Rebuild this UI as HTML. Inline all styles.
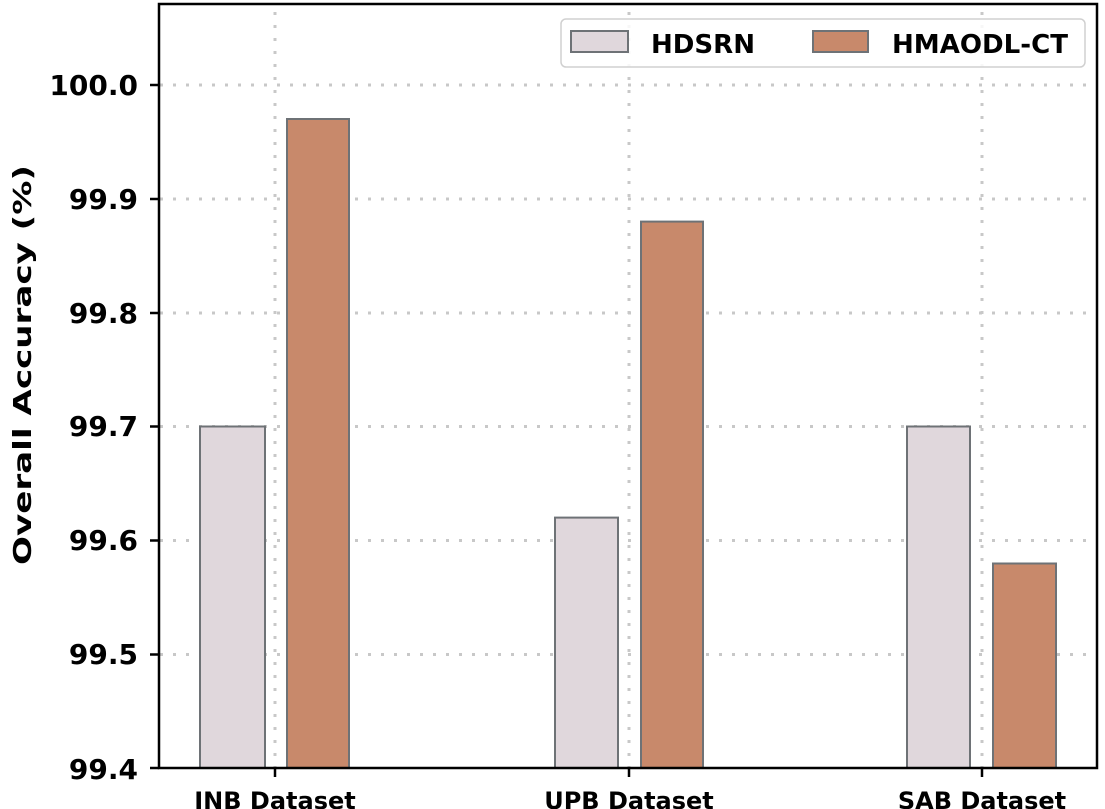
<!DOCTYPE html>
<html><head><meta charset="utf-8"><style>
html,body{margin:0;padding:0;background:#fff;}
svg{display:block;}
text{font-family:"DejaVu Sans","Liberation Sans",sans-serif;font-weight:bold;fill:#000;}
</style></head><body>
<svg width="1105" height="809" viewBox="0 0 1105 809" xmlns="http://www.w3.org/2000/svg">
<g stroke="#c8c8c8" stroke-width="3" stroke-dasharray="3,10">
<line x1="160" y1="85" x2="1097" y2="85"/>
<line x1="160" y1="199" x2="1097" y2="199"/>
<line x1="160" y1="313" x2="1097" y2="313"/>
<line x1="160" y1="426.5" x2="1097" y2="426.5"/>
<line x1="160" y1="540.5" x2="1097" y2="540.5"/>
<line x1="160" y1="654.5" x2="1097" y2="654.5"/>
<line x1="275" y1="12" x2="275" y2="768"/>
<line x1="629" y1="12" x2="629" y2="768"/>
<line x1="982" y1="12" x2="982" y2="768"/>
</g>
<g stroke="#6e7276" stroke-width="2">
<rect x="200" y="426.5" width="65" height="341.5" fill="#e0d7dc"/>
<rect x="287" y="119" width="62" height="649" fill="#c8896b"/>
<rect x="555" y="517.6" width="63" height="250.4" fill="#e0d7dc"/>
<rect x="641" y="221.6" width="62" height="546.4" fill="#c8896b"/>
<rect x="907" y="426.5" width="63" height="341.5" fill="#e0d7dc"/>
<rect x="993" y="563.5" width="63" height="204.5" fill="#c8896b"/>
</g>
<rect x="159" y="4" width="938" height="764" fill="none" stroke="#000" stroke-width="2.5"/>
<g stroke="#000" stroke-width="2.5">
<line x1="150" y1="85" x2="159" y2="85"/>
<line x1="150" y1="199" x2="159" y2="199"/>
<line x1="150" y1="313" x2="159" y2="313"/>
<line x1="150" y1="426.5" x2="159" y2="426.5"/>
<line x1="150" y1="540.5" x2="159" y2="540.5"/>
<line x1="150" y1="654.5" x2="159" y2="654.5"/>
<line x1="150" y1="768" x2="159" y2="768"/>
<line x1="275" y1="768" x2="275" y2="777"/>
<line x1="629" y1="768" x2="629" y2="777"/>
<line x1="982" y1="768" x2="982" y2="777"/>
</g>
<g font-size="28" text-anchor="end">
<text x="138" y="95">100.0</text>
<text x="138" y="209">99.9</text>
<text x="138" y="323">99.8</text>
<text x="138" y="436">99.7</text>
<text x="138" y="550">99.6</text>
<text x="138" y="664">99.5</text>
<text x="138" y="779">99.4</text>
</g>
<g font-size="24" text-anchor="middle">
<text x="275" y="809">INB Dataset</text>
<text x="629" y="809">UPB Dataset</text>
<text x="982" y="809">SAB Dataset</text>
</g>
<text transform="translate(31,365) rotate(-90)" font-size="25" text-anchor="middle" textLength="400" lengthAdjust="spacingAndGlyphs">Overall Accuracy (%)</text>
<rect x="561" y="19" width="524" height="48" rx="5" fill="#fff" fill-opacity="0.85" stroke="#d0d0d0" stroke-width="1.5"/>
<rect x="571" y="31" width="57" height="21" fill="#e0d7dc" stroke="#6e7276" stroke-width="2"/>
<text x="651" y="53" font-size="26" textLength="104" lengthAdjust="spacingAndGlyphs">HDSRN</text>
<rect x="813" y="31" width="55" height="21" fill="#c8896b" stroke="#6e7276" stroke-width="2"/>
<text x="892" y="53" font-size="26" textLength="176" lengthAdjust="spacingAndGlyphs">HMAODL-CT</text>
</svg>
</body></html>
